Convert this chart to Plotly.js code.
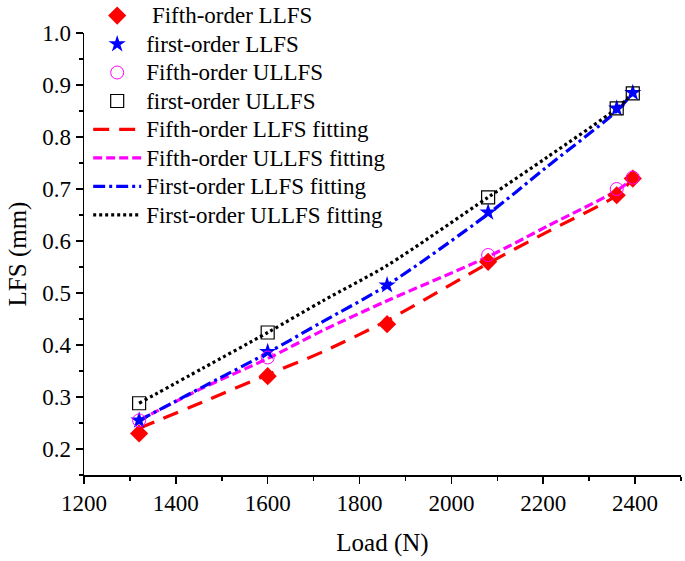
<!DOCTYPE html>
<html>
<head>
<meta charset="utf-8">
<script src="https://cdn.plot.ly/plotly-3.0.1.min.js"></script>
<style>
  html, body { margin: 0; padding: 0; background: #fff; }
  #lfs_graph { width: 685px; height: 561px; }
</style>
</head>
<body>
<div id="lfs_graph"></div>
<script>
var load_pts = [1320, 1600, 1860, 2080, 2360, 2395]
var fifth_llfs = [0.23, 0.34, 0.44, 0.56, 0.688, 0.72]
var first_llfs = [0.255, 0.387, 0.515, 0.655, 0.855, 0.885]

var load_ull = [1320, 1600, 2080, 2360, 2395]
var fifth_ullfs = [0.255, 0.376, 0.573, 0.70, 0.722]
var first_ullfs = [0.288, 0.424, 0.684, 0.855, 0.884]

// fitting curves, sampled along the drawn lines
var load_fit = [1320, 1460, 1600, 1720, 1860, 2080, 2210, 2360, 2395]
var fit_fifth_llfs = [0.24, 0.291, 0.343, 0.387, 0.447, 0.557, 0.618, 0.688, 0.72]
var fit_fifth_ullfs = [0.255, 0.318, 0.374, 0.428, 0.485, 0.57, 0.629, 0.697, 0.72]
var fit_first_llfs = [0.255, 0.32, 0.385, 0.445, 0.515, 0.652, 0.744, 0.85, 0.885]
var fit_first_ullfs = [0.288, 0.356, 0.424, 0.485, 0.553, 0.684, 0.762, 0.855, 0.884]

var serif = 'Liberation Serif, Times New Roman, serif'

function lbl(s) {
    return '<span style="font-size:23px">' + s + '</span>'
}

function fit_trace(name, y, color, dash, rank) {
    return {
        name: lbl(name), x: load_fit, y: y, type: 'scatter', mode: 'lines',
        line: {color: color, width: 3.2, dash: dash, shape: 'spline', smoothing: 0.8},
        legendrank: rank
    }
}

var data = [
    fit_trace('Fifth-order LLFS fitting', fit_fifth_llfs, '#ff0000', '16px,10px', 5),
    fit_trace('Fifth-order ULLFS fitting', fit_fifth_ullfs, '#ff00ff', '9px,4px', 6),
    fit_trace('First-order LLFS fitting', fit_first_llfs, '#0000ff', '12px,4px,3px,4px', 7),
    fit_trace('First-order ULLFS fitting', fit_first_ullfs, '#000000', '3px,3px', 8),
    {
        name: lbl('\u00a0Fifth-order LLFS'), x: load_pts, y: fifth_llfs, type: 'scatter', mode: 'markers',
        marker: {symbol: 'diamond', size: 14, color: '#ff0000'}, legendrank: 1
    },
    {
        name: lbl('first-order LLFS'), x: load_pts, y: first_llfs, type: 'scatter', mode: 'markers',
        marker: {symbol: 'star', size: 13, color: '#0000ff'}, legendrank: 2
    },
    {
        name: lbl('Fifth-order ULLFS'), x: load_ull, y: fifth_ullfs, type: 'scatter', mode: 'markers',
        marker: {symbol: 'circle-open', size: 13, color: '#ff00ff', line: {width: 1}}, legendrank: 3
    },
    {
        name: lbl('first-order ULLFS'), x: load_ull, y: first_ullfs, type: 'scatter', mode: 'markers',
        marker: {symbol: 'square-open', size: 13, color: '#000000', line: {width: 1.2}}, legendrank: 4
    }
]

var layout = {
    width: 685, height: 561,
    margin: {l: 84, r: 4, t: 33, b: 86, autoexpand: false},
    paper_bgcolor: '#fff', plot_bgcolor: '#fff',
    font: {family: serif, color: '#000', size: 23},
    showlegend: true,
    legend: {
        x: 0.007, y: 1.083, xanchor: 'left', yanchor: 'top',
        bgcolor: 'rgba(0,0,0,0)', borderwidth: 0,
        font: {family: serif, size: 19.6, color: '#000'},
        itemwidth: 48, traceorder: 'normal'
    },
    xaxis: {
        range: [1200, 2500], tick0: 1200, dtick: 200,
        showgrid: false, zeroline: false,
        showline: true, linecolor: '#000', linewidth: 1.5,
        ticks: 'outside', ticklen: 7, tickwidth: 1.5, tickcolor: '#000',
        minor: {dtick: 100, ticks: 'outside', ticklen: 4, tickwidth: 1.5, tickcolor: '#000', showgrid: false},
        tickfont: {family: serif, size: 23},
        title: {text: 'Load (N)', font: {family: serif, size: 25}, standoff: 18}
    },
    yaxis: {
        range: [0.15, 1.0], tick0: 0.2, dtick: 0.1, tickformat: '.1f',
        showgrid: false, zeroline: false,
        showline: true, linecolor: '#000', linewidth: 1.5,
        ticks: 'outside', ticklen: 7, tickwidth: 1.5, tickcolor: '#000',
        minor: {dtick: 0.05, ticks: 'outside', ticklen: 4, tickwidth: 1.5, tickcolor: '#000', showgrid: false},
        tickfont: {family: serif, size: 23},
        title: {text: 'LFS (mm)', font: {family: serif, size: 25}, standoff: 8}
    }
}

Plotly.newPlot('lfs_graph', data, layout, {staticPlot: true})
</script>
</body>
</html>
